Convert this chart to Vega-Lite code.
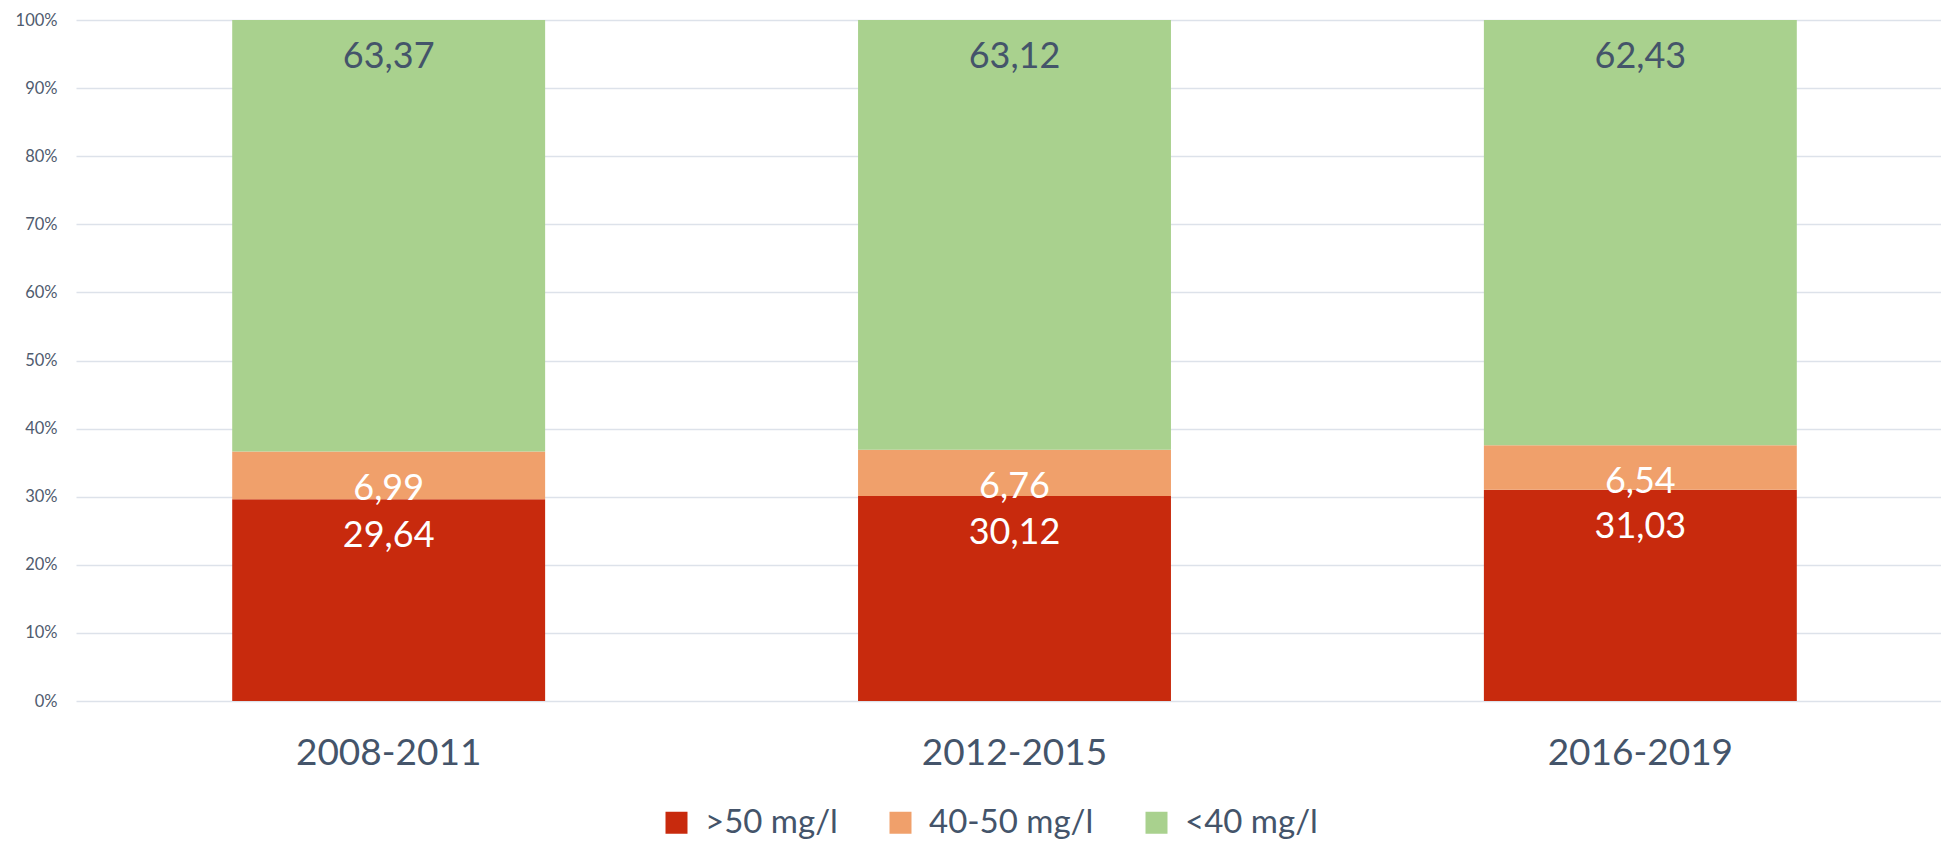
{
  "$schema": "https://vega.github.io/schema/vega-lite/v6.json",
  "autosize": {"type": "none"},
  "padding": {"left": 76, "top": 20, "right": 0, "bottom": 143},
  "width": 1865,
  "height": 681,
  "background": "white",
  "config": {
    "view": {"stroke": null},
    "font": "Lato",
    "locale": {"number": {"decimal": ",", "thousands": ".", "grouping": [3], "currency": ["", " €"]}}
  },
  "data": {
    "values": [
      {"period": "2008-2011", "cat": ">50 mg/l", "ord": 1, "value": 29.64},
      {"period": "2008-2011", "cat": "40-50 mg/l", "ord": 2, "value": 6.99},
      {"period": "2008-2011", "cat": "<40 mg/l", "ord": 3, "value": 63.37},
      {"period": "2012-2015", "cat": ">50 mg/l", "ord": 1, "value": 30.12},
      {"period": "2012-2015", "cat": "40-50 mg/l", "ord": 2, "value": 6.76},
      {"period": "2012-2015", "cat": "<40 mg/l", "ord": 3, "value": 63.12},
      {"period": "2016-2019", "cat": ">50 mg/l", "ord": 1, "value": 31.03},
      {"period": "2016-2019", "cat": "40-50 mg/l", "ord": 2, "value": 6.54},
      {"period": "2016-2019", "cat": "<40 mg/l", "ord": 3, "value": 62.43}
    ]
  },
  "encoding": {
    "x": {
      "field": "period", "type": "nominal", "sort": null,
      "scale": {"paddingInner": 0.5, "paddingOuter": 0.24, "align": 0.52},
      "axis": {
        "title": null, "labelAngle": 0, "domain": false, "ticks": false, "labelLimit": 500,
        "labelFontSize": 37, "labelColor": "#44546A", "labelPadding": 34, "labelFont": "Lato"
      }
    },
    "y": {
      "field": "value", "type": "quantitative", "stack": "normalize",
      "scale": {"domain": [0, 1]},
      "axis": {
        "title": null, "format": ".0%", "values": [0, 0.1, 0.2, 0.3, 0.4, 0.5, 0.6, 0.7, 0.8, 0.9, 1],
        "domain": false, "ticks": false, "gridColor": "#DDE2EA", "gridWidth": 1.5,
        "labelFontSize": 16.5, "labelColor": "#4F5B6E", "labelPadding": 19
      }
    },
    "order": {"field": "ord", "type": "quantitative"}
  },
  "layer": [
    {
      "mark": {"type": "bar"},
      "encoding": {
        "color": {
          "field": "cat", "type": "nominal",
          "scale": {"domain": [">50 mg/l", "40-50 mg/l", "<40 mg/l"], "range": ["#C82A0D", "#F0A06B", "#A9D18E"]},
          "legend": {
            "title": null, "orient": "none", "direction": "horizontal",
            "legendX": 584, "legendY": 786,
            "symbolType": "square", "symbolSize": 484, "symbolStrokeWidth": 0,
            "labelFontSize": 33, "labelColor": "#44546A", "labelOffset": 12, "labelLimit": 400,
            "columnPadding": 46, "padding": 0
          }
        }
      }
    },
    {
      "mark": {"type": "text", "baseline": "middle", "align": "center", "dy": 37, "fontSize": 36},
      "encoding": {
        "text": {"field": "value", "type": "quantitative", "format": ".2f"},
        "color": {
          "condition": {"test": "datum.cat === '<40 mg/l'", "value": "#44546A"},
          "value": "#FFFFFF"
        }
      }
    }
  ]
}
